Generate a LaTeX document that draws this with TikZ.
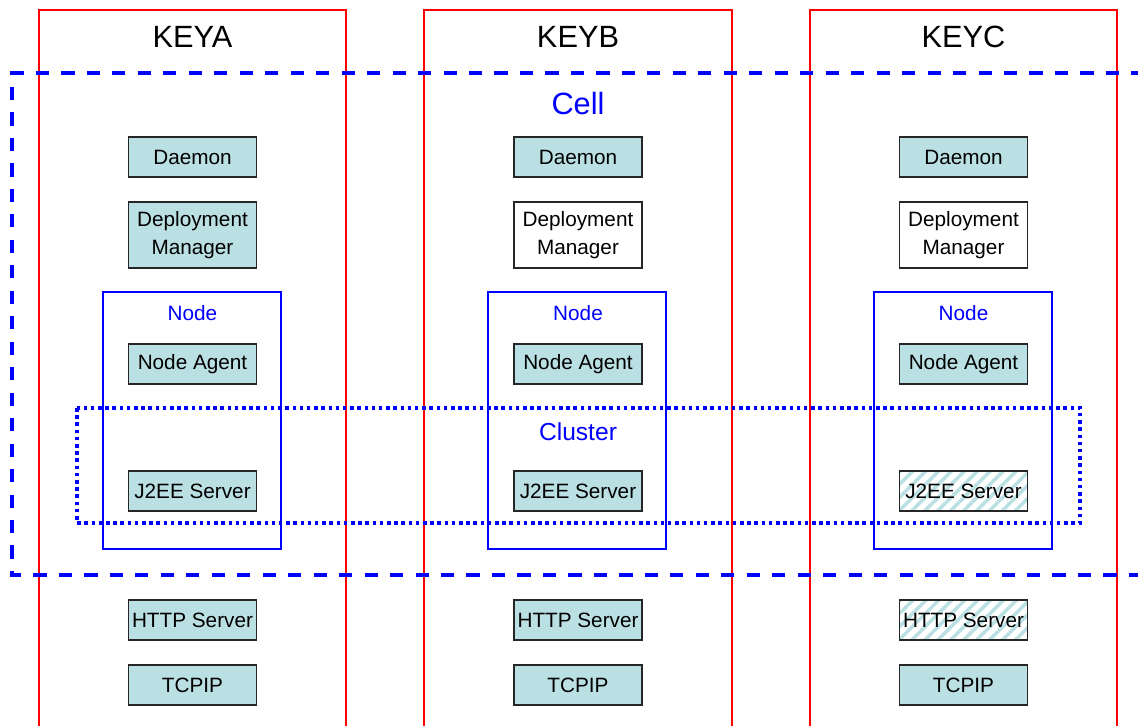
\documentclass[tikz,border=0pt]{standalone}
\usepackage{fontspec}
\setmainfont{Liberation Sans}
\usetikzlibrary{patterns.meta}

\definecolor{boxfill}{RGB}{187,224,227}

\tikzset{
  comp/.style={draw=black!85, line width=0.8pt, fill=boxfill, minimum width=2.56cm,
    minimum height=0.8cm, inner sep=1pt, align=center, font=\fontsize{11.8}{14.8}\selectfont},
  compwhite/.style={comp, fill=white},
  comphatch/.style={comp, fill=none, pattern={Lines[angle=45,distance=5.2pt,line width=2pt]},
    pattern color=boxfill},
  keycol/.style={draw=red, line width=0.8pt},
  nodebox/.style={draw=blue, line width=1.1pt},
  keylabel/.style={font=\fontsize{17.5}{20}\selectfont},
}

\begin{document}
\begin{tikzpicture}[x=0.02cm, y=-0.02cm]
\useasboundingbox (0,0) rectangle (1138,725);
\clip (0,0) rectangle (1138,725);

% Machines
\draw[keycol] (39,10) rectangle (346,760);
\draw[keycol] (424,10) rectangle (732,760);
\draw[keycol] (810,10) rectangle (1117,760);
\node[keylabel] (keyA) at (192.5,37) {KEYA};
\node[keylabel] (keyB) at (578,37) {KEYB};
\node[keylabel] (keyC) at (963.5,37) {KEYC};

% Cell
\draw[blue, line width=2.3pt, dash pattern=on 7.5pt off 7pt] (1170,73) -- (12,73) -- (12,575) -- (1170,575);
\node[blue, font=\fontsize{17.5}{20}\selectfont] (cell) at (578,103) {Cell};

% Nodes
\draw[nodebox] (103,292) rectangle (281,549);
\draw[nodebox] (488,292) rectangle (666,549);
\draw[nodebox] (874,292) rectangle (1052,549);
\node[blue, font=\fontsize{11.8}{14}\selectfont] (nodeA) at (192.5,313) {Node};
\node[blue, font=\fontsize{11.8}{14}\selectfont] (nodeB) at (578,313) {Node};
\node[blue, font=\fontsize{11.8}{14}\selectfont] (nodeC) at (963.5,313) {Node};

% Cluster
\draw[blue, line width=2pt, dash pattern=on 2pt off 2.1pt] (77,408) rectangle (1080,523);
\node[blue, font=\fontsize{14}{16}\selectfont] (cluster) at (578,432) {Cluster};

% KEYA
\node[comp] (daemonA) at (192.5,157) {Daemon};
\node[comp, minimum height=1.32cm] (dmgrA) at (192.5,235) {Deployment\\[1pt]Manager};
\node[comp] (agentA) at (192.5,364) {Node Agent};
\node[comp] (j2eeA) at (192.5,491) {J2EE Server};
\node[comp] (httpA) at (192.5,620) {HTTP Server};
\node[comp] (tcpipA) at (192.5,685) {TCPIP};

% KEYB
\node[comp] (daemonB) at (578,157) {Daemon};
\node[compwhite, minimum height=1.32cm] (dmgrB) at (578,235) {Deployment\\[1pt]Manager};
\node[comp] (agentB) at (578,364) {Node Agent};
\node[comp] (j2eeB) at (578,491) {J2EE Server};
\node[comp] (httpB) at (578,620) {HTTP Server};
\node[comp] (tcpipB) at (578,685) {TCPIP};

% KEYC
\node[comp] (daemonC) at (963.5,157) {Daemon};
\node[compwhite, minimum height=1.32cm] (dmgrC) at (963.5,235) {Deployment\\[1pt]Manager};
\node[comp] (agentC) at (963.5,364) {Node Agent};
\node[comphatch] (j2eeC) at (963.5,491) {J2EE Server};
\node[comphatch] (httpC) at (963.5,620) {HTTP Server};
\node[comp] (tcpipC) at (963.5,685) {TCPIP};
\end{tikzpicture}
\end{document}
